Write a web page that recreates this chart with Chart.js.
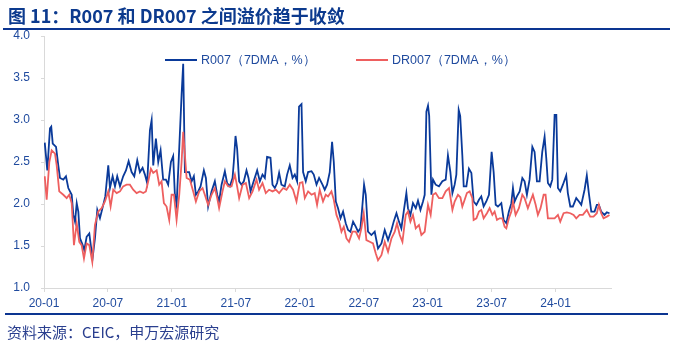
<!DOCTYPE html>
<html><head><meta charset="utf-8">
<script src="https://cdn.jsdelivr.net/npm/chart.js@4/dist/chart.umd.min.js"></script>
<style>
html,body{margin:0;padding:0;background:#fff;width:673px;height:342px;overflow:hidden;position:relative;font-family:"Liberation Sans",Arial,sans-serif}
#c{position:absolute;left:0;top:0}
#title{position:absolute;left:8px;top:3px;font:bold 18px "Noto Sans CJK SC",sans-serif;color:#0c3a8e;white-space:nowrap;line-height:24px}
#tline{position:absolute;left:3px;top:28px;width:667px;height:2px;background:#0c3591}
#bline{position:absolute;left:5px;top:313px;width:663px;height:2px;background:#0c3591}
#foot{position:absolute;left:7px;top:322px;font:15px "Noto Sans CJK SC",sans-serif;color:#2a3f8f;white-space:nowrap;line-height:20px}
.lg{position:absolute;top:52px;font:12.5px "Liberation Sans",Arial,sans-serif;color:#1f4a9e;white-space:nowrap;line-height:16px}
.lg i{display:inline-block;width:32px;height:2px;vertical-align:middle;margin-right:4px;position:relative;top:-1px}
</style></head>
<body>
<canvas id="c" width="673" height="342"></canvas>
<div id="title">图 11：R007 和 DR007 之间溢价趋于收敛</div>
<div id="tline"></div>
<div class="lg" style="left:165px"><i style="background:#0a3a9a"></i>R007（7DMA，%）</div>
<div class="lg" style="left:356px"><i style="background:#ee5f5f"></i>DR007（7DMA，%）</div>
<div id="bline"></div>
<div id="foot">资料来源：CEIC，申万宏源研究</div>
<script>
// x values: months since 2020-01
const tickMonths = [0, 6, 12, 18, 24, 30, 36, 42, 48];
const tickLabels = ['20-01','20-07','21-01','21-07','22-01','22-07','23-01','23-07','24-01'];
const yTicks = [1.0, 1.5, 2.0, 2.5, 3.0, 3.5, 4.0];

const rMonth = [0.07,0.31,0.56,0.68,0.82,1.13,1.34,1.50,1.81,2.06,2.28,2.60,2.75,2.91,3.07,3.22,3.38,3.63,3.78,4.00,4.25,4.47,4.57,4.78,5.00,5.25,5.56,5.75,6.03,6.19,6.44,6.66,6.87,7.13,7.43,7.69,7.94,8.22,8.47,8.75,9.00,9.25,9.47,9.68,9.94,10.10,10.25,10.50,10.72,10.94,11.18,11.44,11.65,11.91,12.12,12.28,12.44,12.63,12.91,13.06,13.22,13.62,13.85,14.06,14.25,14.47,14.69,15.00,15.19,15.40,15.72,16.03,16.25,16.43,16.66,16.97,17.18,17.44,17.69,17.81,17.97,18.12,18.31,18.53,18.75,19.00,19.19,19.38,19.62,20.00,20.25,20.50,20.72,20.93,21.25,21.44,21.66,21.87,22.06,22.28,22.59,22.81,23.06,23.32,23.53,23.75,23.93,24.16,24.31,24.56,24.78,25.10,25.31,25.57,25.81,26.13,26.34,26.56,26.81,27.03,27.19,27.38,27.59,27.82,28.06,28.31,28.53,28.75,29.00,29.25,29.47,29.69,29.88,30.03,30.19,30.40,30.72,31.03,31.34,31.66,31.97,32.28,32.60,32.81,33.07,33.31,33.53,33.75,34.00,34.15,34.38,34.62,34.88,35.09,35.32,35.56,35.72,35.88,36.03,36.14,36.35,36.50,36.75,37.06,37.38,37.69,37.90,38.13,38.32,38.53,38.69,38.91,39.05,39.25,39.38,39.63,39.87,40.10,40.31,40.57,40.81,41.03,41.25,41.50,41.75,42.00,42.19,42.38,42.59,42.91,43.13,43.38,43.62,43.85,44.00,44.16,44.37,44.63,44.88,45.09,45.31,45.56,45.82,46.03,46.25,46.50,46.75,46.97,47.13,47.28,47.50,47.69,47.91,48.07,48.22,48.44,48.69,49.00,49.15,49.38,49.62,49.94,50.19,50.41,50.72,50.93,51.12,51.35,51.66,51.87,52.06,52.28,52.59,52.81,53.06];
const rValue = [2.73,2.40,2.90,2.92,2.72,2.68,2.46,2.31,2.29,2.33,2.19,2.11,1.87,1.79,2.01,1.91,1.59,1.51,1.45,1.61,1.65,1.43,1.37,1.59,1.93,1.83,1.99,2.09,2.46,2.19,2.33,2.21,2.33,2.21,2.33,2.40,2.51,2.38,2.33,2.52,2.38,2.43,2.35,2.25,2.88,3.00,2.46,2.78,2.50,2.64,2.29,2.29,2.23,2.50,2.57,2.11,1.99,2.50,3.30,3.67,2.38,2.38,2.27,2.33,2.11,2.15,2.21,2.40,2.31,1.97,2.15,2.27,2.11,2.03,2.23,2.39,2.25,2.21,2.31,2.50,2.81,2.66,2.27,2.23,2.27,2.40,2.31,2.15,2.25,2.40,2.27,2.35,2.31,2.56,2.55,2.23,2.19,2.25,2.37,2.23,2.21,2.35,2.46,2.31,2.35,2.27,3.16,3.19,2.38,2.27,2.38,2.39,2.35,2.23,2.31,2.23,2.17,2.23,2.38,2.74,2.50,2.03,1.95,1.83,1.91,1.77,1.69,1.67,1.79,1.73,1.67,1.71,1.99,2.23,2.11,1.67,1.63,1.67,1.47,1.53,1.69,1.57,1.69,1.79,1.89,1.79,1.71,1.91,2.13,1.95,1.87,2.01,1.95,2.04,1.93,2.03,2.11,3.10,3.17,3.05,2.11,2.29,2.23,2.21,2.27,2.29,2.58,2.38,2.13,2.23,2.35,3.12,3.05,2.58,2.21,2.21,2.42,2.37,2.03,1.99,2.05,2.09,1.97,2.03,2.11,2.62,2.38,1.99,1.97,2.01,1.81,1.77,1.91,2.01,2.19,2.03,2.09,2.15,2.31,2.27,2.11,2.29,2.68,2.62,2.27,2.27,2.62,2.80,2.54,2.25,2.21,2.29,3.06,3.06,2.19,2.15,2.23,2.34,2.13,1.97,1.97,2.07,2.03,1.99,2.17,2.34,2.13,1.91,1.91,1.99,1.99,1.91,1.87,1.90,1.89];

const drMonth = [0.07,0.25,0.50,0.72,1.03,1.19,1.43,1.81,2.13,2.37,2.60,2.81,3.07,3.31,3.53,3.75,4.00,4.25,4.53,4.78,5.09,5.41,5.72,6.03,6.25,6.50,6.82,7.13,7.43,7.75,8.06,8.37,8.69,9.00,9.31,9.56,9.78,10.03,10.25,10.57,10.81,11.03,11.25,11.50,11.75,11.97,12.19,12.44,12.69,12.91,13.06,13.38,13.69,14.00,14.25,14.56,14.88,15.09,15.40,15.72,16.03,16.25,16.43,16.75,16.97,17.28,17.60,17.91,18.12,18.31,18.63,18.94,19.25,19.57,19.94,20.18,20.50,20.81,21.12,21.44,21.75,22.06,22.44,22.75,23.06,23.37,23.69,24.00,24.25,24.47,24.78,25.10,25.40,25.62,25.87,26.18,26.44,26.65,26.97,27.19,27.44,27.68,27.91,28.13,28.38,28.62,28.94,29.25,29.56,29.78,30.00,30.25,30.56,30.87,31.13,31.34,31.66,31.97,32.28,32.60,32.91,33.12,33.38,33.63,33.94,34.15,34.38,34.62,34.88,35.18,35.41,35.72,36.03,36.28,36.50,36.75,37.06,37.38,37.69,38.00,38.32,38.53,38.84,39.07,39.25,39.47,39.68,39.94,40.19,40.31,40.57,40.81,41.03,41.25,41.56,41.81,42.07,42.28,42.50,42.75,43.00,43.22,43.38,43.62,43.85,44.00,44.25,44.56,44.88,45.09,45.40,45.63,45.87,46.13,46.34,46.59,46.88,47.06,47.28,47.60,47.91,48.22,48.44,48.75,49.06,49.38,49.69,49.94,50.25,50.56,50.93,51.25,51.56,51.87,52.06,52.28,52.50,52.81,53.06];
const drValue = [2.33,2.05,2.50,2.64,2.60,2.46,2.15,2.11,2.07,2.11,2.01,1.51,1.77,1.55,1.51,1.35,1.53,1.51,1.31,1.75,1.91,1.95,2.03,2.15,1.97,2.17,2.13,2.15,2.21,2.23,2.23,2.17,2.13,2.15,2.13,2.15,2.27,2.42,2.37,2.40,2.23,2.27,2.01,1.97,1.81,2.11,2.11,1.81,2.11,2.50,2.86,2.31,2.29,2.15,2.03,2.15,2.19,2.11,1.99,2.11,2.19,2.07,1.95,2.15,2.27,2.21,2.21,2.35,2.21,2.07,2.23,2.25,2.07,2.15,2.29,2.17,2.25,2.13,2.17,2.15,2.17,2.13,2.19,2.17,2.23,2.17,2.03,2.25,2.26,2.07,2.15,2.11,2.13,1.99,2.17,2.03,2.11,2.09,2.15,2.05,1.87,1.79,1.67,1.73,1.59,1.55,1.67,1.67,1.59,1.71,1.89,1.57,1.55,1.53,1.41,1.33,1.39,1.55,1.43,1.59,1.67,1.77,1.63,1.55,1.87,1.91,1.79,1.87,1.71,1.75,1.63,1.67,1.99,1.87,2.11,2.13,2.07,2.07,2.15,2.19,1.93,2.03,2.11,2.08,1.97,2.05,2.13,2.15,2.07,1.81,1.83,1.91,1.93,1.83,1.89,1.95,1.87,1.91,1.81,1.83,1.83,1.73,1.71,1.83,1.91,2.03,1.87,1.95,2.11,2.07,1.95,2.03,2.11,1.99,1.87,1.95,2.11,2.11,1.83,1.83,1.83,1.87,1.79,1.89,1.90,1.89,1.87,1.83,1.87,1.87,1.93,1.85,1.85,1.89,1.99,1.89,1.83,1.85,1.87];

const toXY = (xs, ys) => xs.map((x, i) => ({x: x, y: ys[i]}));
const tickColor = '#1f4a9e';
const axisColor = '#d9d9d9';

new Chart(document.getElementById('c'), {
  type: 'line',
  data: {
    datasets: [
      {label: 'DR007（7DMA，%）', data: toXY(drMonth, drValue), borderColor: '#ee5f5f', borderWidth: 1.8, pointRadius: 0, tension: 0, fill: false},
      {label: 'R007（7DMA，%）', data: toXY(rMonth, rValue), borderColor: '#0a3a9a', borderWidth: 1.8, pointRadius: 0, tension: 0, fill: false}
    ]
  },
  options: {
    responsive: false, animation: false, devicePixelRatio: 1,
    layout: {padding: {left: 0, right: 62, top: 36, bottom: 28}},
    plugins: {legend: {display: false}, tooltip: {enabled: false}},
    scales: {
      x: {
        type: 'linear', min: 0, max: 53.2,
        afterBuildTicks: s => { s.ticks = tickMonths.map(v => ({value: v})); },
        afterFit: s => { s.height = 26; },
        grid: {drawOnChartArea: false, drawTicks: true, tickLength: 4, color: axisColor},
        border: {display: true, color: axisColor, width: 1},
        ticks: {color: tickColor, font: {family: '"Liberation Sans", Arial, sans-serif', size: 12}, padding: 4, maxRotation: 0, autoSkip: false,
          callback: v => { const i = tickMonths.indexOf(v); return i >= 0 ? tickLabels[i] : ''; }}
      },
      y: {
        min: 1, max: 4,
        afterBuildTicks: s => { s.ticks = yTicks.map(v => ({value: v})); },
        afterFit: s => { s.width = 44; },
        grid: {drawOnChartArea: false, drawTicks: true, tickLength: 3, color: axisColor},
        border: {display: true, color: axisColor, width: 1},
        ticks: {color: tickColor, font: {family: '"Liberation Sans", Arial, sans-serif', size: 12}, padding: 11,
          callback: v => Number(v).toFixed(1)}
      }
    }
  }
});
</script>
</body></html>
